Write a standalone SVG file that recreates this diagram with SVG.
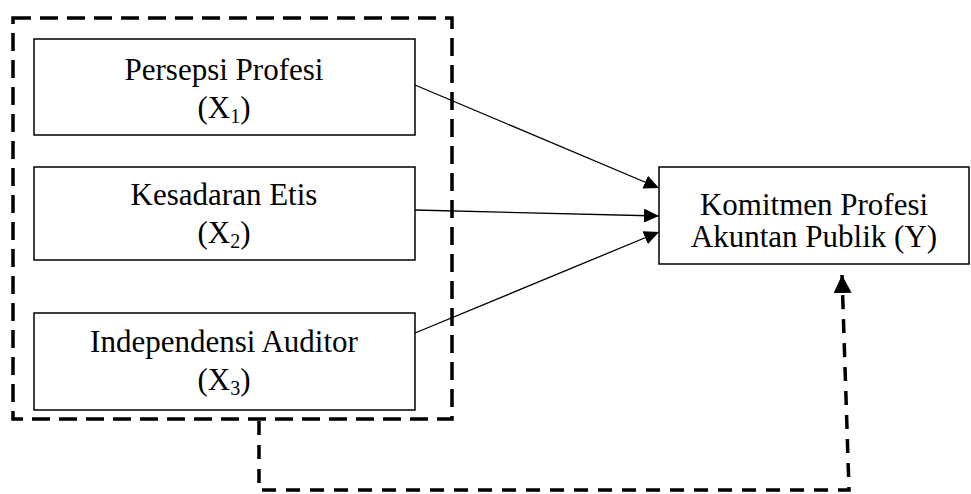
<svg xmlns="http://www.w3.org/2000/svg" width="971" height="494" viewBox="0 0 971 494">
<style>
.box{fill:#fff;stroke:#000;stroke-width:1.5}
.t{font-family:"Liberation Serif","Times New Roman",serif;font-size:31px;fill:#000;text-anchor:middle}
.sub{font-size:20px}
.arr{stroke:#000;stroke-width:1.3;fill:none}
.dash{stroke:#000;stroke-width:3.5;fill:none}
</style>
<defs>
<marker id="ah" markerUnits="userSpaceOnUse" markerWidth="16" markerHeight="14" refX="15" refY="7" orient="auto">
<path d="M0,0 L15,7 L0,14 z" fill="#000"/>
</marker>
<marker id="ahd" markerUnits="userSpaceOnUse" markerWidth="20" markerHeight="18" refX="18" refY="9" orient="auto">
<path d="M0,0 L18,9 L0,18 z" fill="#000"/>
</marker>
</defs>
<g id="group-x">
<rect x="13" y="18" width="439" height="401" class="dash" stroke-dasharray="18,9"/>
</g>
<g id="x1">
<rect class="box" x="34" y="39" width="381" height="96"/>
<text class="t" x="224" y="80">Persepsi Profesi</text>
<text class="t" x="224" y="118">(X<tspan class="sub" dy="5">1</tspan><tspan dy="-5">)</tspan></text>
</g>
<g id="x2">
<rect class="box" x="34" y="167" width="381" height="93"/>
<text class="t" x="224" y="205">Kesadaran Etis</text>
<text class="t" x="224" y="243">(X<tspan class="sub" dy="5">2</tspan><tspan dy="-5">)</tspan></text>
</g>
<g id="x3">
<rect class="box" x="34" y="313" width="381" height="97"/>
<text class="t" x="224" y="352">Independensi Auditor</text>
<text class="t" x="224" y="390">(X<tspan class="sub" dy="5">3</tspan><tspan dy="-5">)</tspan></text>
</g>
<g id="y">
<rect class="box" x="659" y="167" width="310" height="97"/>
<text class="t" x="814" y="215">Komitmen Profesi</text>
<text class="t" x="814" y="247">Akuntan Publik (Y)</text>
</g>
<g id="connectors">
<line class="arr" x1="415" y1="85" x2="659" y2="188" marker-end="url(#ah)"/>
<line class="arr" x1="415" y1="210" x2="659" y2="216" marker-end="url(#ah)"/>
<line class="arr" x1="415" y1="333" x2="659" y2="232" marker-end="url(#ah)"/>
<path class="dash" d="M259,421 L259,490 L849,490 L842,275" stroke-dasharray="14,10" marker-end="url(#ahd)"/>
</g>
</svg>
